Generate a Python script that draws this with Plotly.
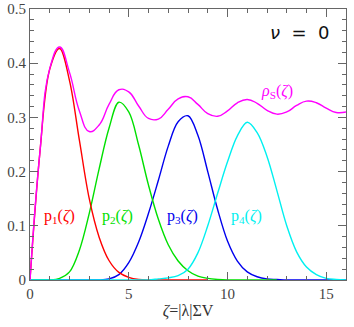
import plotly.graph_objects as go

zeta = [0.0, 0.5, 1.0, 1.5, 2.0, 2.5, 3.0, 3.5, 4.0, 4.5, 5.0, 5.5, 6.0, 6.5, 7.0, 7.5,
        8.0, 8.5, 9.0, 9.5, 10.0, 10.5, 11.0, 11.5, 12.0, 12.5, 13.0, 13.5, 14.0, 14.5,
        15.0, 15.5, 16.0]

rho_s = [0.000, 0.235, 0.390, 0.430, 0.383, 0.312, 0.274, 0.286, 0.324, 0.351, 0.347,
         0.321, 0.298, 0.297, 0.315, 0.334, 0.338, 0.324, 0.307, 0.302, 0.312, 0.327,
         0.333, 0.326, 0.313, 0.306, 0.310, 0.322, 0.330, 0.327, 0.317, 0.309, 0.310]

# curves were computed only up to some zeta in the original; None = no data
p1 = [0.000, 0.235, 0.389, 0.427, 0.368, 0.258, 0.150, 0.079, 0.036, 0.014, 0.005,
      0.001, 0.000, 0.000, 0.000, 0.000, 0.000, 0.000, 0.000, None, None, None,
      None, None, None, None, None, None, None, None, None, None, None]

p2 = [0.000, 0.000, 0.000, 0.003, 0.015, 0.055, 0.123, 0.205, 0.280, 0.328, 0.310,
      0.249, 0.175, 0.112, 0.065, 0.035, 0.017, 0.007, 0.003, 0.001, 0.000, 0.000,
      0.000, 0.000, 0.000, 0.000, None, None, None, None, None, None, None]

p3 = [0.000, 0.000, 0.000, 0.000, 0.000, 0.000, 0.000, 0.000, 0.002, 0.010, 0.032,
      0.070, 0.123, 0.184, 0.247, 0.292, 0.303, 0.267, 0.200, 0.130, 0.072, 0.035,
      0.015, 0.006, 0.002, 0.001, 0.000, 0.000, 0.000, 0.000, 0.000, 0.000, 0.000]

p4 = [0.000, 0.000, 0.000, 0.000, 0.000, 0.000, 0.000, 0.000, 0.000, 0.000, 0.000,
      0.000, 0.000, 0.002, 0.004, 0.008, 0.020, 0.050, 0.100, 0.160, 0.218, 0.266,
      0.291, 0.272, 0.228, 0.165, 0.100, 0.052, 0.024, 0.010, 0.003, 0.001, 0.000]

RED, GREEN, BLUE, CYAN, MAGENTA = "#ff0000", "#00e000", "#0000ee", "#00f0f0", "#ff00ff"

# drawing order matters for which colour shows along the zero line
series = [
    ("p3", p3, BLUE, 1.0),
    ("p2", p2, GREEN, 1.0),
    ("p1", p1, RED, 1.0),
    ("p4", p4, CYAN, 1.0),
    ("rho_s", rho_s, MAGENTA, 1.3),
]

labels = [
    ("p<sub>1</sub>(<i>ζ</i>)", 1.47, 0.118, RED),
    ("p<sub>2</sub>(<i>ζ</i>)", 4.45, 0.118, GREEN),
    ("p<sub>3</sub>(<i>ζ</i>)", 7.73, 0.118, BLUE),
    ("p<sub>4</sub>(<i>ζ</i>)", 10.97, 0.118, CYAN),
    ("<i>ρ</i><sub>S</sub>(<i>ζ</i>)", 12.49, 0.347, MAGENTA),
]

fig = go.Figure()
for name, ys, col, smooth in series:
    fig.add_trace(go.Scatter(x=zeta, y=ys, mode="lines", name=name,
                             line=dict(color=col, width=1.4, shape="spline",
                                       smoothing=smooth)))

for txt, lx, ly, col in labels:
    fig.add_annotation(x=lx, y=ly, text=txt, showarrow=False,
                       font=dict(color=col, size=16, family="Liberation Serif"))

fig.add_annotation(x=13.65, y=0.457, text="<i>ν</i>  =  0", showarrow=False,
                   font=dict(color="#111", size=18, family="DejaVu Sans"))

axis_common = dict(showgrid=False, zeroline=False, showline=True, linecolor="#666",
                   linewidth=1, mirror="allticks", ticks="inside", tickcolor="#666",
                   ticklen=8, automargin=False,
                   tickfont=dict(family="Liberation Serif", size=15, color="#444"))

fig.update_xaxes(range=[0, 16], dtick=5, tick0=0,
                 minor=dict(dtick=1, ticks="inside", ticklen=4, tickcolor="#666"),
                 title=dict(text="<i>ζ</i>=|λ|ΣV", standoff=3,
                            font=dict(family="Liberation Serif", size=16, color="#333")),
                 **axis_common)
fig.update_yaxes(range=[0, 0.5], dtick=0.1, tick0=0,
                 minor=dict(dtick=0.02, ticks="inside", ticklen=4, tickcolor="#666"),
                 **axis_common)

fig.update_layout(width=354, height=327, showlegend=False,
                  margin=dict(l=30, r=8, t=9, b=47),
                  plot_bgcolor="white", paper_bgcolor="white")

# drop the browser's default 8px body margin so the figure sits at the page corner
fig.write_html("out.html", config={"displayModeBar": False},
               post_script="document.body.style.margin='0';")
